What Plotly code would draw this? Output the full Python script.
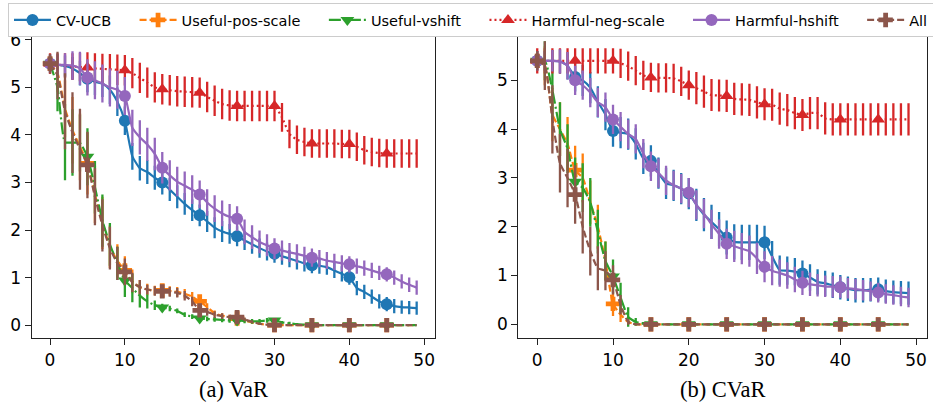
import plotly.graph_objects as go

steps = list(range(50))

# ---------------- VaR panel ----------------
var_cvucb = [5.50, 5.48, 5.45, 5.40, 5.30, 5.18, 5.12, 5.08, 4.95, 4.70,
             4.30, 3.55, 3.30, 3.22, 3.10, 3.00, 2.85, 2.70, 2.55, 2.42,
             2.31, 2.18, 2.05, 1.97, 1.92, 1.87, 1.78, 1.70, 1.62, 1.55,
             1.50, 1.45, 1.40, 1.35, 1.30, 1.26, 1.25, 1.22, 1.15, 1.08,
             1.01, 0.78, 0.70, 0.60, 0.50, 0.44, 0.40, 0.38, 0.37, 0.36]
var_pos = [5.50, 5.30, 4.55, 4.10, 3.75, 3.40, 2.75, 2.15, 1.65, 1.35,
           1.15, 0.92, 0.80, 0.75, 0.73, 0.73, 0.72, 0.70, 0.66, 0.60,
           0.50, 0.38, 0.25, 0.20, 0.17, 0.14, 0.10, 0.06, 0.03, 0.01,
           0.00, 0.00, 0.00, 0.00, 0.00, 0.00, 0.00, 0.00, 0.00, 0.00,
           0.00, 0.00, 0.00, 0.00, 0.00, 0.00, 0.00, 0.00, 0.00, 0.00]
var_vshift = [5.50, 5.00, 3.85, 3.84, 3.83, 3.54, 2.90, 2.20, 1.70, 1.30,
              0.94, 0.78, 0.62, 0.50, 0.42, 0.37, 0.35, 0.30, 0.22, 0.18,
              0.14, 0.13, 0.12, 0.11, 0.10, 0.10, 0.09, 0.08, 0.08, 0.10,
              0.10, 0.06, 0.04, 0.02, 0.01, 0.00, 0.00, 0.00, 0.00, 0.00,
              0.00, 0.00, 0.00, 0.00, 0.00, 0.00, 0.00, 0.00, 0.00, 0.00]
var_neg = [5.50, 5.48, 5.46, 5.44, 5.43, 5.42, 5.40, 5.39, 5.38, 5.37,
           5.36, 5.30, 5.20, 5.10, 5.00, 4.96, 4.94, 4.92, 4.91, 4.90,
           4.89, 4.80, 4.72, 4.65, 4.62, 4.61, 4.61, 4.61, 4.61, 4.61,
           4.61, 4.37, 4.02, 3.90, 3.85, 3.82, 3.82, 3.82, 3.82, 3.81,
           3.81, 3.75, 3.68, 3.64, 3.62, 3.61, 3.61, 3.61, 3.61, 3.61]
var_hshift = [5.50, 5.48, 5.47, 5.46, 5.40, 5.21, 5.15, 5.08, 5.00, 4.95,
              4.82, 4.15, 3.95, 3.80, 3.60, 3.31, 3.15, 3.02, 2.93, 2.85,
              2.75, 2.58, 2.45, 2.35, 2.28, 2.24, 1.96, 1.85, 1.75, 1.68,
              1.61, 1.57, 1.53, 1.50, 1.46, 1.42, 1.40, 1.36, 1.33, 1.30,
              1.28, 1.24, 1.20, 1.15, 1.10, 1.07, 1.00, 0.92, 0.85, 0.79]
var_all = [5.50, 5.25, 4.50, 4.05, 3.70, 3.37, 2.70, 2.10, 1.62, 1.30,
           1.12, 0.90, 0.80, 0.75, 0.72, 0.71, 0.70, 0.68, 0.62, 0.50,
           0.31, 0.28, 0.22, 0.19, 0.17, 0.17, 0.12, 0.07, 0.03, 0.01,
           0.00, 0.00, 0.00, 0.00, 0.00, 0.00, 0.00, 0.00, 0.00, 0.00,
           0.00, 0.00, 0.00, 0.00, 0.00, 0.00, 0.00, 0.00, 0.00, 0.00]

var_cvucb_err = [0.18, 0.20, 0.22, 0.24, 0.26, 0.28, 0.28, 0.28, 0.30, 0.30,
                 0.30, 0.28, 0.26, 0.25, 0.25, 0.25, 0.24, 0.24, 0.23, 0.23,
                 0.23, 0.22, 0.22, 0.22, 0.21, 0.21, 0.20, 0.20, 0.20, 0.19,
                 0.19, 0.18, 0.18, 0.18, 0.17, 0.17, 0.17, 0.16, 0.16, 0.16,
                 0.16, 0.15, 0.15, 0.15, 0.15, 0.15, 0.15, 0.14, 0.14, 0.14]
var_pos_err = [0.15, 0.40, 0.60, 0.70, 0.70, 0.65, 0.60, 0.55, 0.45, 0.35,
               0.30, 0.25, 0.15, 0.12, 0.10, 0.10, 0.10, 0.10, 0.10, 0.10,
               0.10, 0.08, 0.06, 0.05, 0.05, 0.05, 0.04, 0.03, 0.02, 0.01,
               0.00, 0.00, 0.00, 0.00, 0.00, 0.00, 0.00, 0.00, 0.00, 0.00,
               0.00, 0.00, 0.00, 0.00, 0.00, 0.00, 0.00, 0.00, 0.00, 0.00]
var_vshift_err = [0.15, 0.50, 0.80, 0.70, 0.60, 0.60, 0.55, 0.55, 0.45, 0.35,
                  0.35, 0.30, 0.25, 0.15, 0.10, 0.08, 0.06, 0.05, 0.05, 0.05,
                  0.05, 0.05, 0.05, 0.05, 0.05, 0.05, 0.05, 0.05, 0.05, 0.05,
                  0.05, 0.03, 0.03, 0.02, 0.01, 0.00, 0.00, 0.00, 0.00, 0.00,
                  0.00, 0.00, 0.00, 0.00, 0.00, 0.00, 0.00, 0.00, 0.00, 0.00]
var_neg_err = [0.22, 0.24, 0.26, 0.28, 0.30, 0.32, 0.32, 0.32, 0.32, 0.32,
               0.32, 0.32, 0.32, 0.32, 0.32, 0.32, 0.32, 0.32, 0.32, 0.32,
               0.32, 0.32, 0.32, 0.32, 0.32, 0.32, 0.32, 0.32, 0.32, 0.32,
               0.32, 0.30, 0.30, 0.30, 0.30, 0.30, 0.30, 0.30, 0.30, 0.30,
               0.30, 0.30, 0.30, 0.30, 0.30, 0.30, 0.30, 0.30, 0.30, 0.30]
var_hshift_err = [0.20, 0.22, 0.25, 0.30, 0.35, 0.38, 0.40, 0.40, 0.40, 0.40,
                  0.40, 0.38, 0.36, 0.35, 0.34, 0.33, 0.32, 0.31, 0.30, 0.30,
                  0.29, 0.28, 0.28, 0.27, 0.27, 0.26, 0.26, 0.25, 0.24, 0.23,
                  0.22, 0.21, 0.20, 0.20, 0.19, 0.19, 0.18, 0.18, 0.17, 0.17,
                  0.17, 0.16, 0.16, 0.16, 0.15, 0.15, 0.15, 0.15, 0.15, 0.15]
var_all_err = [0.20, 0.50, 0.80, 0.85, 0.85, 0.70, 0.60, 0.55, 0.45, 0.35,
               0.28, 0.20, 0.15, 0.10, 0.10, 0.10, 0.10, 0.10, 0.10, 0.10,
               0.10, 0.08, 0.07, 0.06, 0.05, 0.05, 0.04, 0.03, 0.02, 0.01,
               0.00, 0.00, 0.00, 0.00, 0.00, 0.00, 0.00, 0.00, 0.00, 0.00,
               0.00, 0.00, 0.00, 0.00, 0.00, 0.00, 0.00, 0.00, 0.00, 0.00]

# ---------------- CVaR panel ----------------
cvar_cvucb = [5.40, 5.40, 5.40, 5.39, 5.30, 5.07, 5.00, 4.85, 4.56, 4.30,
              3.96, 3.93, 3.90, 3.70, 3.40, 3.35, 3.10, 2.89, 2.85, 2.78,
              2.68, 2.45, 2.25, 2.10, 1.95, 1.78, 1.69, 1.68, 1.68, 1.68,
              1.68, 1.39, 1.11, 1.10, 1.08, 1.04, 0.96, 0.87, 0.84, 0.80,
              0.76, 0.73, 0.70, 0.70, 0.71, 0.72, 0.68, 0.66, 0.65, 0.64]
cvar_pos = [5.40, 5.30, 4.30, 4.00, 3.70, 3.16, 3.00, 2.50, 2.00, 1.30,
            0.42, 0.20, 0.05, 0.00, 0.00, 0.00, 0.00, 0.00, 0.00, 0.00,
            0.00, 0.00, 0.00, 0.00, 0.00, 0.00, 0.00, 0.00, 0.00, 0.00,
            0.00, 0.00, 0.00, 0.00, 0.00, 0.00, 0.00, 0.00, 0.00, 0.00,
            0.00, 0.00, 0.00, 0.00, 0.00, 0.00, 0.00, 0.00, 0.00, 0.00]
cvar_vshift = [5.40, 5.40, 4.80, 4.00, 3.60, 2.92, 2.80, 2.50, 1.90, 1.30,
               0.98, 0.55, 0.15, 0.05, 0.02, 0.00, 0.00, 0.00, 0.00, 0.00,
               0.00, 0.00, 0.00, 0.00, 0.00, 0.00, 0.00, 0.00, 0.00, 0.00,
               0.00, 0.00, 0.00, 0.00, 0.00, 0.00, 0.00, 0.00, 0.00, 0.00,
               0.00, 0.00, 0.00, 0.00, 0.00, 0.00, 0.00, 0.00, 0.00, 0.00]
cvar_neg = [5.40, 5.40, 5.40, 5.40, 5.40, 5.40, 5.40, 5.40, 5.40, 5.40,
            5.40, 5.35, 5.29, 5.20, 5.10, 5.06, 5.05, 5.05, 5.04, 4.98,
            4.90, 4.84, 4.77, 4.70, 4.69, 4.68, 4.62, 4.61, 4.60, 4.55,
            4.51, 4.50, 4.42, 4.39, 4.33, 4.29, 4.33, 4.33, 4.22, 4.20,
            4.20, 4.20, 4.20, 4.20, 4.20, 4.20, 4.20, 4.20, 4.20, 4.20]
cvar_hshift = [5.40, 5.40, 5.40, 5.39, 5.30, 5.00, 4.90, 4.75, 4.55, 4.45,
               4.20, 4.05, 3.90, 3.80, 3.50, 3.24, 3.10, 2.95, 2.85, 2.78,
               2.70, 2.45, 2.27, 2.05, 1.85, 1.65, 1.60, 1.55, 1.50, 1.35,
               1.18, 1.10, 1.05, 1.00, 0.92, 0.85, 0.82, 0.80, 0.78, 0.77,
               0.76, 0.74, 0.72, 0.70, 0.68, 0.65, 0.62, 0.60, 0.57, 0.55]
cvar_all = [5.40, 5.30, 4.20, 3.30, 3.00, 2.66, 2.00, 1.50, 1.15, 1.10,
            0.91, 0.40, 0.05, 0.00, 0.00, 0.00, 0.00, 0.00, 0.00, 0.00,
            0.00, 0.00, 0.00, 0.00, 0.00, 0.00, 0.00, 0.00, 0.00, 0.00,
            0.00, 0.00, 0.00, 0.00, 0.00, 0.00, 0.00, 0.00, 0.00, 0.00,
            0.00, 0.00, 0.00, 0.00, 0.00, 0.00, 0.00, 0.00, 0.00, 0.00]

cvar_cvucb_err = [0.20, 0.20, 0.22, 0.25, 0.28, 0.30, 0.32, 0.32, 0.32, 0.32,
                  0.32, 0.32, 0.32, 0.32, 0.32, 0.32, 0.32, 0.32, 0.32, 0.32,
                  0.32, 0.33, 0.34, 0.35, 0.35, 0.35, 0.36, 0.36, 0.36, 0.36,
                  0.34, 0.32, 0.30, 0.29, 0.28, 0.27, 0.27, 0.26, 0.26, 0.26,
                  0.25, 0.25, 0.25, 0.25, 0.24, 0.24, 0.24, 0.24, 0.24, 0.24]
cvar_pos_err = [0.15, 0.40, 0.55, 0.55, 0.55, 0.50, 0.50, 0.45, 0.45, 0.40,
                0.25, 0.15, 0.05, 0.01, 0.00, 0.00, 0.00, 0.00, 0.00, 0.00,
                0.00, 0.00, 0.00, 0.00, 0.00, 0.00, 0.00, 0.00, 0.00, 0.00,
                0.00, 0.00, 0.00, 0.00, 0.00, 0.00, 0.00, 0.00, 0.00, 0.00,
                0.00, 0.00, 0.00, 0.00, 0.00, 0.00, 0.00, 0.00, 0.00, 0.00]
cvar_vshift_err = [0.15, 0.40, 0.60, 0.55, 0.50, 0.50, 0.50, 0.50, 0.45, 0.40,
                   0.35, 0.30, 0.20, 0.08, 0.03, 0.00, 0.00, 0.00, 0.00, 0.00,
                   0.00, 0.00, 0.00, 0.00, 0.00, 0.00, 0.00, 0.00, 0.00, 0.00,
                   0.00, 0.00, 0.00, 0.00, 0.00, 0.00, 0.00, 0.00, 0.00, 0.00,
                   0.00, 0.00, 0.00, 0.00, 0.00, 0.00, 0.00, 0.00, 0.00, 0.00]
cvar_neg_err = [0.26, 0.26, 0.26, 0.26, 0.26, 0.26, 0.26, 0.26, 0.26, 0.26,
                0.26, 0.30, 0.30, 0.30, 0.30, 0.30, 0.30, 0.30, 0.30, 0.30,
                0.30, 0.33, 0.33, 0.33, 0.33, 0.33, 0.33, 0.33, 0.33, 0.33,
                0.33, 0.33, 0.33, 0.33, 0.33, 0.33, 0.33, 0.33, 0.33, 0.33,
                0.33, 0.33, 0.33, 0.33, 0.33, 0.33, 0.33, 0.33, 0.33, 0.33]
cvar_hshift_err = [0.20, 0.20, 0.22, 0.25, 0.28, 0.30, 0.30, 0.30, 0.30, 0.30,
                   0.30, 0.30, 0.30, 0.30, 0.30, 0.30, 0.30, 0.30, 0.30, 0.30,
                   0.30, 0.30, 0.30, 0.30, 0.30, 0.31, 0.32, 0.32, 0.32, 0.32,
                   0.32, 0.30, 0.28, 0.27, 0.26, 0.25, 0.24, 0.23, 0.22, 0.22,
                   0.22, 0.21, 0.21, 0.21, 0.20, 0.20, 0.20, 0.20, 0.20, 0.20]
cvar_all_err = [0.20, 0.50, 0.70, 0.60, 0.60, 0.60, 0.55, 0.50, 0.45, 0.40,
                0.30, 0.20, 0.06, 0.01, 0.00, 0.00, 0.00, 0.00, 0.00, 0.00,
                0.00, 0.00, 0.00, 0.00, 0.00, 0.00, 0.00, 0.00, 0.00, 0.00,
                0.00, 0.00, 0.00, 0.00, 0.00, 0.00, 0.00, 0.00, 0.00, 0.00,
                0.00, 0.00, 0.00, 0.00, 0.00, 0.00, 0.00, 0.00, 0.00, 0.00]

series_names = ["CV-UCB", "Useful-pos-scale", "Useful-vshift",
                "Harmful-neg-scale", "Harmful-hshift", "All"]
colors = ["#1f77b4", "#ff7f0e", "#2ca02c", "#d62728", "#9467bd", "#8c564b"]
dashes = ["solid", "7px,3px", "12px,3px,2px,3px", "2px,3px", "solid", "7px,3px"]
symbols = ["circle", "cross", "triangle-down", "triangle-up", "circle", "cross"]
msizes = [12, 12, 12, 12, 12, 12]

var_vals = [var_cvucb, var_pos, var_vshift, var_neg, var_hshift, var_all]
var_errs = [var_cvucb_err, var_pos_err, var_vshift_err, var_neg_err,
            var_hshift_err, var_all_err]
cvar_vals = [cvar_cvucb, cvar_pos, cvar_vshift, cvar_neg, cvar_hshift, cvar_all]
cvar_errs = [cvar_cvucb_err, cvar_pos_err, cvar_vshift_err, cvar_neg_err,
             cvar_hshift_err, cvar_all_err]

MARK_EVERY = 5
NB = "\u00a0"

fig = go.Figure()

for vals, errs, xa, ya in [(var_vals, var_errs, "x", "y"),
                           (cvar_vals, cvar_errs, "x2", "y2")]:
    for i in range(6):
        fig.add_trace(go.Scatter(
            x=steps, y=vals[i], xaxis=xa, yaxis=ya, mode="lines",
            line=dict(color=colors[i], width=2.2, dash=dashes[i],
                      shape="spline", smoothing=0.5),
            error_y=dict(type="data", array=errs[i], visible=True,
                         color=colors[i], thickness=2.3, width=0),
            showlegend=False, hoverinfo="skip"))
        fig.add_trace(go.Scatter(
            x=steps[::MARK_EVERY], y=vals[i][::MARK_EVERY], xaxis=xa, yaxis=ya,
            mode="markers",
            marker=dict(color=colors[i], symbol=symbols[i], size=msizes[i],
                        line=dict(width=0)),
            showlegend=False, hoverinfo="skip"))

# legend entries
for i in range(6):
    label = series_names[i] + (NB * 4 if i < 5 else "")
    fig.add_trace(go.Scatter(
        x=[None], y=[None], xaxis="x", yaxis="y", mode="lines+markers",
        name=label,
        line=dict(color=colors[i], width=2.2, dash=dashes[i]),
        marker=dict(color=colors[i], symbol=symbols[i], size=msizes[i],
                    line=dict(width=0)),
        showlegend=True))

W, H = 933, 404
axis_common = dict(showgrid=False, zeroline=False, showline=True, mirror=True,
                   linecolor="#222222", linewidth=1.3, ticks="outside",
                   ticklen=6, tickwidth=1.3, tickcolor="#222222",
                   tickfont=dict(family="DejaVu Sans", size=17, color="black"))

fig.update_layout(
    width=W, height=H,
    margin=dict(l=0, r=0, t=0, b=0, autoexpand=False),
    paper_bgcolor="white", plot_bgcolor="white",
    font=dict(family="DejaVu Sans", color="black"),
    xaxis=dict(domain=[31.7 / W, 435 / W], range=[-2.45, 51.45],
               tickvals=[0, 10, 20, 30, 40, 50], anchor="y", **axis_common),
    yaxis=dict(domain=[(H - 338) / H, (H - 37) / H], range=[-0.27, 6.06],
               tickvals=[0, 1, 2, 3, 4, 5, 6], anchor="x", **axis_common),
    xaxis2=dict(domain=[518.3 / W, 926.7 / W], range=[-2.5, 51.4],
                tickvals=[0, 10, 20, 30, 40, 50], anchor="y2", **axis_common),
    yaxis2=dict(domain=[(H - 338) / H, (H - 34) / H], range=[-0.28, 5.95],
                tickvals=[0, 1, 2, 3, 4, 5], anchor="x2", **axis_common),
    legend=dict(orientation="h", x=8 / W, xanchor="left", y=1 - 3 / H,
                yanchor="top", bgcolor="white", bordercolor="#cccccc",
                borderwidth=1, font=dict(family="DejaVu Sans", size=14.5,
                                         color="black"),
                itemwidth=37),
    annotations=[
        dict(text="(a) VaR", x=(31.7 + 435) / 2 / W, y=(H - 389) / H,
             xref="paper", yref="paper", showarrow=False,
             xanchor="center", yanchor="middle",
             font=dict(family="Liberation Serif", size=22.5, color="black")),
        dict(text="(b) CVaR", x=(518.3 + 926.7) / 2 / W, y=(H - 389) / H,
             xref="paper", yref="paper", showarrow=False,
             xanchor="center", yanchor="middle",
             font=dict(family="Liberation Serif", size=22.5, color="black")),
    ],
)

fig.write_html("out.html",
               config={"displayModeBar": False},
               post_script="document.body.style.margin='0px';"
                           "document.body.style.overflow='hidden';")
